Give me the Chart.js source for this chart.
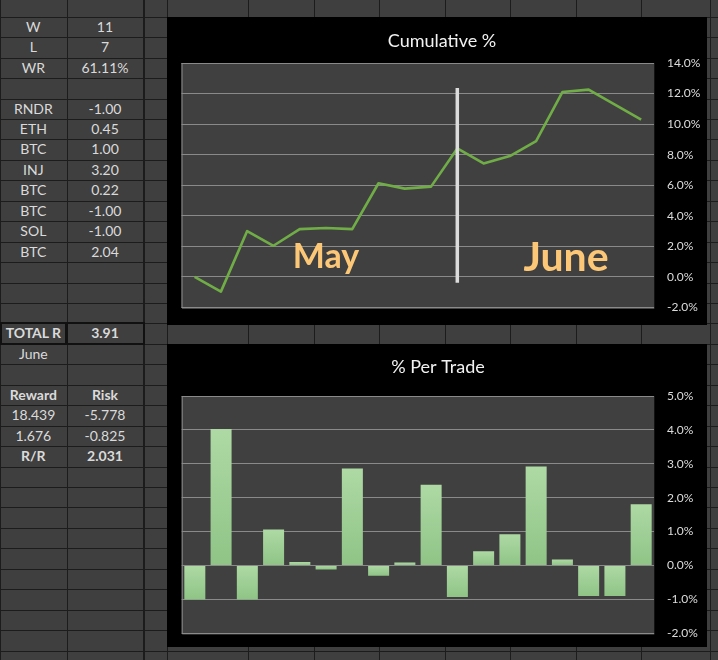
<!DOCTYPE html>
<html><head><meta charset="utf-8">
<script src="https://cdn.jsdelivr.net/npm/chart.js@4.4.0/dist/chart.umd.min.js"></script>
<style>
html,body{margin:0;padding:0;background:#3f3f3f;width:718px;height:660px;overflow:hidden;}
#sheet{position:absolute;left:0;top:0;width:718px;height:660px;}
.hl{position:absolute;height:1px;background:#1c1c1c;}
.vl{position:absolute;width:1px;background:#1c1c1c;}
.cell{position:absolute;color:#dadada;font-family:Lato,'Open Sans',sans-serif;font-size:14px;text-align:center;white-space:nowrap;}
.bold{font-weight:bold;}
.box{position:absolute;border:2px solid #111;box-sizing:border-box;}
.panel{position:absolute;background:#000;}
canvas{display:block;}
</style></head><body>
<div id="sheet"></div>
<div class="panel" style="left:167px;top:17px;width:540px;height:308px;"><canvas id="c1" width="540" height="308"></canvas></div>
<div class="panel" style="left:167px;top:344px;width:540px;height:303px;"><canvas id="c2" width="540" height="303"></canvas></div>
<script>
// ---------- data ----------
const trades = ['1','2','3','4','5','6','7','8','9','10','11','12','13','14','15','16','17','18'];
const cumulativePct = [0.0, -0.96, 3.0, 2.04, 3.13, 3.2, 3.13, 6.13, 5.78, 5.91, 8.41, 7.43, 7.91, 8.89, 12.1, 12.26, 11.28, 10.3];
const perTradePct = [-1.0, 4.03, -1.0, 1.06, 0.1, -0.12, 2.86, -0.3, 0.09, 2.38, -0.93, 0.42, 0.92, 2.92, 0.18, -0.9, -0.9, 1.81];
const monthNames = ['May', 'June'];
const chartTitles = ['Cumulative %', '% Per Trade'];

const statLabels = ['W', 'L', 'WR'];
const statValues = ['11', '7', '61.11%'];
const tickers = ['RNDR', 'ETH', 'BTC', 'INJ', 'BTC', 'BTC', 'SOL', 'BTC'];
const rValues = ['-1.00', '0.45', '1.00', '3.20', '0.22', '-1.00', '-1.00', '2.04'];
const totalLabel = ['TOTAL R', '3.91'];
const monthLabel = 'June';
const rrHeader = ['Reward', 'Risk'];
const rrRow1 = ['18.439', '-5.778'];
const rrRow2 = ['1.676', '-0.825'];
const rrRatio = ['R/R', '2.031'];

// ---------- spreadsheet ----------
const sheet = document.getElementById('sheet');
const rowY = k => 16.7 + 20.45 * k;
const colX = [0, 66.7, 143.3, 167.3, 248, 313.5, 379, 444.5, 510, 575.5, 641, 710];
function add(cls, style, text) {
  const d = document.createElement('div');
  d.className = cls; Object.assign(d.style, style);
  if (text !== undefined) d.textContent = text;
  sheet.appendChild(d); return d;
}
for (let k = 0; k <= 31; k++) add('hl', {left:'0px', width:'718px', top: Math.round(rowY(k)) + 'px'});
colX.forEach(x => add('vl', {left: Math.round(x) + 'px', top:'0px', height:'660px'}));
add('vl', {left:'143px', top:'0px', height:'660px', width:'2px'});
function cell(row, col, text, bold) {
  const x0 = colX[col], x1 = colX[col + 1];
  add('cell' + (bold ? ' bold' : ''), {left: x0 + 'px', width: (x1 - x0) + 'px', top: rowY(row) + 'px',
    height: '20.45px', lineHeight: '20.45px'}, text);
}
statLabels.forEach((t, i) => { cell(i, 0, t); cell(i, 1, statValues[i]); });
tickers.forEach((t, i) => { cell(4 + i, 0, t); cell(4 + i, 1, rValues[i]); });
cell(15, 0, totalLabel[0], true); cell(15, 1, totalLabel[1], true);
add('box', {left:'0px', top:(rowY(15) - 1) + 'px', width:'66.7px', height:'22.5px'});
add('box', {left:'65.7px', top:(rowY(15) - 1) + 'px', width:'79px', height:'22.5px'});
cell(16, 0, monthLabel);
cell(18, 0, rrHeader[0], true); cell(18, 1, rrHeader[1], true);
cell(19, 0, rrRow1[0]); cell(19, 1, rrRow1[1]);
cell(20, 0, rrRow2[0]); cell(20, 1, rrRow2[1]);
cell(21, 0, rrRatio[0], true); cell(21, 1, rrRatio[1], true);

// ---------- charts ----------
const FONT = "Lato, 'Open Sans', sans-serif";
Chart.defaults.font.family = FONT;

const plotBg = {
  id: 'plotBg',
  beforeDraw(chart) {
    const {ctx, chartArea: a} = chart;
    ctx.save(); ctx.fillStyle = '#404040';
    ctx.fillRect(a.left, a.top, a.right - a.left, a.bottom - a.top); ctx.restore();
  },
  afterDraw(chart, args, opts) {
    const {ctx, chartArea: a} = chart;
    ctx.save();
    ctx.strokeStyle = '#8c8c8c'; ctx.lineWidth = 1;
    ctx.beginPath(); ctx.moveTo(a.left + 0.5, a.top); ctx.lineTo(a.left + 0.5, a.bottom + 0.5);
    ctx.lineTo(a.right, a.bottom + 0.5); ctx.stroke();
    ctx.fillStyle = '#f2f2f2'; ctx.font = '18px ' + FONT;
    ctx.textAlign = 'center'; ctx.textBaseline = 'middle';
    ctx.fillText(opts.text, opts.x, opts.y);
    ctx.restore();
  }
};

const monthMarks = {
  id: 'monthMarks',
  afterDatasetsDraw(chart, args, opts) {
    const {ctx, scales: {x, y}} = chart;
    ctx.save();
    const sx = x.getPixelForValue(opts.splitIndex);
    ctx.strokeStyle = '#dcdcdc'; ctx.lineWidth = 3.5;
    ctx.beginPath(); ctx.moveTo(sx, y.getPixelForValue(opts.splitTop)); ctx.lineTo(sx, y.getPixelForValue(opts.splitBottom)); ctx.stroke();
    ctx.fillStyle = '#fcc878';
    ctx.textAlign = 'center'; ctx.textBaseline = 'alphabetic';
    opts.labels.forEach(l => {
      ctx.font = 'bold ' + l.size + 'px ' + FONT;
      ctx.fillText(l.text, x.getPixelForValue(l.at), y.getPixelForValue(l.base));
    });
    ctx.restore();
  }
};

function yAxis(min, max, step, width) {
  return {
    position: 'right', min, max,
    ticks: {stepSize: step, callback: v => v.toFixed(1) + '%', color: '#dcdcdc', font: {size: 12, family: FONT}, padding: 0},
    grid: {color: '#8a8a8a', drawTicks: true, tickLength: 12.7, tickColor: 'rgba(0,0,0,0)', lineWidth: 1},
    border: {display: false},
    afterFit: s => { s.width = width; }
  };
}

new Chart(document.getElementById('c1'), {
  type: 'line',
  data: {labels: trades, datasets: [{data: cumulativePct, borderColor: '#70ad47', borderWidth: 2.6,
    pointRadius: 0, tension: 0, fill: false, borderJoinStyle: 'round'}]},
  options: {
    responsive: false, animation: false, devicePixelRatio: 1,
    layout: {padding: {left: 14.5, top: 46, right: 0, bottom: 17.5}},
    plugins: {legend: {display: false}, tooltip: {enabled: false},
      plotBg: {text: chartTitles[0], x: 275, y: 24},
      monthMarks: {splitIndex: 10, splitTop: 12.37, splitBottom: -0.38,
        labels: [{text: monthNames[0], at: 5, base: 0.6, size: 34},
                 {text: monthNames[1], at: 14.14, base: 0.42, size: 41}]}},
    scales: {x: {display: false, offset: true}, y: yAxis(-2, 14, 2, 52.7)}
  },
  plugins: [plotBg, monthMarks]
});

new Chart(document.getElementById('c2'), {
  type: 'bar',
  data: {labels: trades, datasets: [{data: perTradePct, barPercentage: 0.8, categoryPercentage: 1,
    borderWidth: 0,
    backgroundColor: (c) => {
      const ch = c.chart;
      if (!ch.chartArea || c.type !== 'data') return '#a2d297';
      const ys = ch.scales.y;
      const p0 = ys.getPixelForValue(0), p1 = ys.getPixelForValue(c.parsed.y);
      const t = Math.min(p0, p1), b = Math.max(p0, p1);
      if (b - t < 2) return '#a6d49b';
      const g = ch.ctx.createLinearGradient(0, t, 0, b);
      g.addColorStop(0, '#aed9a4'); g.addColorStop(1, '#8fc486');
      return g;
    }}]},
  options: {
    responsive: false, animation: false, devicePixelRatio: 1,
    layout: {padding: {left: 14.7, top: 52, right: 0, bottom: 13.7}},
    plugins: {legend: {display: false}, tooltip: {enabled: false},
      plotBg: {text: chartTitles[1], x: 271, y: 23}},
    scales: {x: {display: false, offset: true}, y: yAxis(-2, 5, 1, 52.7)}
  },
  plugins: [plotBg]
});
</script>
</body></html>
